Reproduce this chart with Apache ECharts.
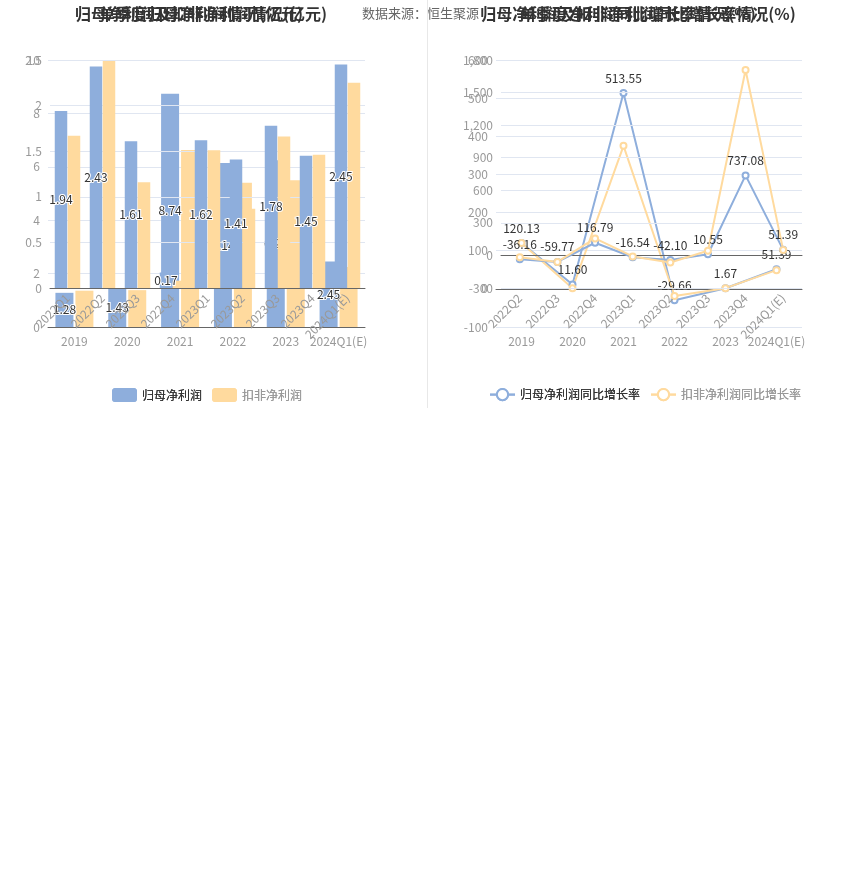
<!DOCTYPE html>
<html>
<head>
<meta charset="utf-8">
<script src="https://cdn.jsdelivr.net/npm/echarts@6.0.0/dist/echarts.min.js"></script>
<style>
html,body{margin:0;padding:0;background:#fff;width:850px;height:890px;overflow:hidden;}
.c{position:absolute;top:0;height:410px;}
</style>
</head>
<body>
<div id="bg" class="c" style="left:0;width:850px;"></div>
<div id="la" class="c" style="left:0;width:425px;"></div>
<div id="lq" class="c" style="left:0;width:425px;"></div>
<div id="ra" class="c" style="left:425px;width:425px;"></div>
<div id="rq" class="c" style="left:425px;width:425px;"></div>
<script>
// ---- data ----
const yearCats = ['2019', '2020', '2021', '2022', '2023', '2024Q1(E)'];
const quarterCats = ['2022Q1', '2022Q2', '2022Q3', '2022Q4', '2023Q1', '2023Q2', '2023Q3', '2023Q4', '2024Q1(E)'];
const quarterYoyCats = ['2022Q2', '2022Q3', '2022Q4', '2023Q1', '2023Q2', '2023Q3', '2023Q4', '2024Q1(E)'];

const yearNetProfit = [1.28, 1.43, 8.74, 6.14, 6.25, 2.45];
const yearDeductedProfit = [1.36, 1.38, 6.63, 5.40, 5.50, 2.25];
const quarterNetProfit = [1.94, 2.43, 1.61, 0.17, 1.62, 1.41, 1.78, 1.45, 2.45];
const quarterDeductedProfit = [1.67, 2.49, 1.16, 0.08, 1.51, 0.87, 1.66, 1.46, 2.25];

const yearNetYoy = [120.13, 11.60, 513.55, -29.66, 1.67, 51.39];
const yearDeductedYoy = [120.0, 1.5, 375.0, -18.6, 1.85, 49.0];
const quarterNetYoy = [-36.16, -59.77, 116.79, -16.54, -42.10, 10.55, 737.08, 51.39];
const quarterDeductedYoy = [-16.0, -60.0, 157.0, -9.6, -65.0, 43.0, 1708.0, 49.0];

const yearTicksProfit = {min: 0, max: 10, interval: 2};
const quarterTicksProfit = {min: 0, max: 2.5, interval: 0.5};
const yearTicksYoy = {min: -100, max: 600, interval: 100};
const quarterTicksYoy = {min: -300, max: 1800, interval: 300};

const names = {net: '归母净利润', ded: '扣非净利润', netYoy: '归母净利润同比增长率', dedYoy: '扣非净利润同比增长率'};
const titles = {
  la: '归母净利润及扣非净利润情况(亿元)',
  lq: '单季度归母净利润情况(亿元)',
  ra: '归母净利润及扣非净利润同比增长率情况(%)',
  rq: '单季度净利润同比增长率情况(%)'
};

// ---- styles ----
const BLUE = '#8eaedc', YELLOW = '#ffda9e';
const FONT = "'Noto Sans CJK SC', 'Noto Sans', sans-serif";
const fmt2 = p => Number(p.value).toFixed(2);

function titleGraphic(text, cx) {
  return {type: 'text', x: cx, y: 14, z: 10,
    style: {text: text, fill: '#333', font: 'bold 16px ' + FONT, textAlign: 'center', textVerticalAlign: 'middle'}};
}
function legendCfg(left, items) {
  return {left: left, top: 383, itemWidth: 25, itemHeight: 14, itemGap: 10,
    textStyle: {fontSize: 12, fontFamily: FONT},
    data: [{name: items[0], textStyle: {color: '#333'}}, {name: items[1], textStyle: {color: '#999'}}]};
}
function yAxisCfg(t) {
  return {type: 'value', min: t.min, max: t.max, interval: t.interval,
    axisLine: {show: false}, axisTick: {show: false},
    axisLabel: {color: '#999', fontSize: 12, fontFamily: FONT},
    splitLine: {lineStyle: {color: '#E0E6F1', width: 1}}};
}
function xAxisCfg(cats, rotate) {
  return {type: 'category', data: cats,
    axisLine: {lineStyle: {color: '#666'}},
    axisTick: {alignWithLabel: true, lineStyle: {color: '#666'}},
    axisLabel: {color: '#999', fontSize: 12, fontFamily: FONT, interval: 0, rotate: rotate || 0}};
}
function barSeries(name, data, color, width, gap, withLabel) {
  return {type: 'bar', name: name, data: data, barWidth: width, barGap: gap,
    itemStyle: {color: color},
    label: withLabel ? {show: true, position: 'inside', formatter: fmt2, color: '#333',
      fontSize: 12, fontFamily: FONT, textBorderColor: '#fff', textBorderWidth: 2} : {show: false}};
}
function lineSeries(name, data, color, withLabel) {
  return {type: 'line', name: name, data: data, symbol: 'emptyCircle', symbolSize: 6,
    lineStyle: {color: color, width: 2}, itemStyle: {color: color, borderWidth: 2},
    label: withLabel ? {show: true, position: 'top', formatter: fmt2, color: '#333',
      fontSize: 12, fontFamily: FONT} : {show: false}};
}

// background: data source + separator
echarts.init(document.getElementById('bg')).setOption({
  backgroundColor: '#fff', animation: false,
  graphic: [
    {type: 'text', x: 362, y: 13, style: {text: '数据来源：恒生聚源', fill: '#666', font: '13px ' + FONT, textVerticalAlign: 'middle'}},
    {type: 'line', shape: {x1: 427.5, y1: 0, x2: 427.5, y2: 408}, style: {stroke: '#e8e8e8', lineWidth: 1}}
  ]
});

// left annual
echarts.init(document.getElementById('la')).setOption({
  backgroundColor: 'transparent', animation: false, textStyle: {fontFamily: FONT},
  graphic: [titleGraphic(titles.la, 201)],
  legend: legendCfg(107, [names.net, names.ded]),
  grid: {left: 48, right: 60, top: 60, bottom: 83},
  xAxis: xAxisCfg(yearCats),
  yAxis: yAxisCfg(yearTicksProfit),
  series: [barSeries(names.net, yearNetProfit, BLUE, 18, '11%', true),
           barSeries(names.ded, yearDeductedProfit, YELLOW, 18, '11%', false)]
});

// left quarterly
echarts.init(document.getElementById('lq')).setOption({
  backgroundColor: 'transparent', animation: false, textStyle: {fontFamily: FONT},
  graphic: [titleGraphic(titles.lq, 201)],
  legend: legendCfg(107, [names.net, names.ded]),
  grid: {left: 50, right: 60, top: 60, bottom: 122},
  xAxis: xAxisCfg(quarterCats, 45),
  yAxis: yAxisCfg(quarterTicksProfit),
  series: [barSeries(names.net, quarterNetProfit, BLUE, 12.5, '4%', true),
           barSeries(names.ded, quarterDeductedProfit, YELLOW, 12.5, '4%', false)]
});

// right annual
echarts.init(document.getElementById('ra')).setOption({
  backgroundColor: 'transparent', animation: false, textStyle: {fontFamily: FONT},
  graphic: [titleGraphic(titles.ra, 213)],
  legend: legendCfg(59, [names.netYoy, names.dedYoy]),
  grid: {left: 71, right: 48, top: 60, bottom: 83},
  xAxis: xAxisCfg(yearCats),
  yAxis: yAxisCfg(yearTicksYoy),
  series: [lineSeries(names.netYoy, yearNetYoy, BLUE, true),
           lineSeries(names.dedYoy, yearDeductedYoy, YELLOW, false)]
});

// right quarterly
echarts.init(document.getElementById('rq')).setOption({
  backgroundColor: 'transparent', animation: false, textStyle: {fontFamily: FONT},
  graphic: [titleGraphic(titles.rq, 213)],
  legend: legendCfg(59, [names.netYoy, names.dedYoy]),
  grid: {left: 76, right: 48, top: 60, bottom: 122},
  xAxis: xAxisCfg(quarterYoyCats, 45),
  yAxis: yAxisCfg(quarterTicksYoy),
  series: [lineSeries(names.netYoy, quarterNetYoy, BLUE, true),
           lineSeries(names.dedYoy, quarterDeductedYoy, YELLOW, false)]
});
</script>
</body>
</html>
